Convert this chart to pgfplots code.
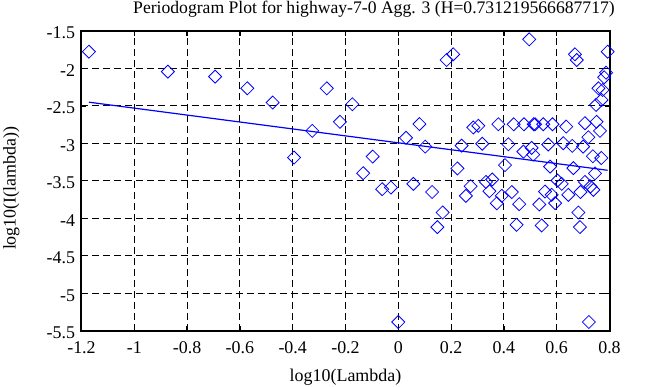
\documentclass[border=0pt]{standalone}
\usepackage{fontspec}
\setmainfont{Liberation Serif}
\usepackage{pgfplots}
\pgfplotsset{compat=1.18}
\definecolor{mblue}{RGB}{0,0,255}
\begin{document}
\begin{tikzpicture}
\useasboundingbox (-81.5bp,-56.3bp) rectangle (576.5bp,330.7bp);
\begin{axis}[
  at={(0,0)}, anchor=south west,
  scale only axis, width=528bp, height=299.7bp,
  xmin=-1.2, xmax=0.8, ymin=-5.5, ymax=-1.5,
  xtick={-1.2,-1,-0.8,-0.6,-0.4,-0.2,0,0.2,0.4,0.6,0.8},
  ytick={-5.5,-5,-4.5,-4,-3.5,-3,-2.5,-2,-1.5},
  xticklabels={-1.2,-1,-0.8,-0.6,-0.4,-0.2,0,0.2,0.4,0.6,0.8},
  yticklabels={-5.5,-5,-4.5,-4,-3.5,-3,-2.5,-2,-1.5},
  grid=major,
  major grid style={black, line width=0.9bp, dash pattern=on 7bp off 4bp},
  axis line style={black, line width=2bp},
  tick align=inside, major tick length=5bp,
  tick style={black, line width=1.2bp},
  xtick pos=both, ytick pos=both,
  tick label style={font=\fontsize{18}{20}\selectfont},
  xticklabel style={yshift=-7bp},
  yticklabel style={xshift=-3bp, yshift=-2bp},
  title={Periodogram Plot for highway-7-0 Agg. 3 (H=0.731219566687717)},
  title style={font=\fontsize{17.7}{20}\selectfont, at={(0.5,1)}, anchor=base, xshift=28.5bp, yshift=12bp, inner sep=0pt},
  xlabel={log10(Lambda)},
  xlabel style={font=\fontsize{18}{20}\selectfont, at={(0.5,0)}, anchor=base, yshift=-51bp, inner sep=0pt},
  ylabel={log10(I(lambda))},
  ylabel style={font=\fontsize{18}{20}\selectfont, at={(0,0.5)}, anchor=base, xshift=-7.4bp, yshift=65.8bp, inner sep=0pt},
  clip=false,
]
\addplot[only marks, mark=square, mark size=4.6bp, mark options={rotate=45, draw=mblue, fill=none, line width=0.8bp}]
coordinates {
(-1.172,-1.776) (-0.873,-2.042) (-0.694,-2.109) (-0.572,-2.265) (-0.476,-2.455)
(-0.395,-3.189) (-0.326,-2.833) (-0.271,-2.265) (-0.221,-2.712) (-0.174,-2.478)
(-0.133,-3.398) (-0.097,-3.176) (-0.061,-3.611) (-0.028,-3.589) (0.000,-5.384)
(0.029,-2.925) (0.057,-3.540) (0.080,-2.742) (0.102,-3.043) (0.128,-3.649)
(0.148,-4.117) (0.168,-3.922) (0.183,-1.887) (0.208,-1.811) (0.224,-3.335)
(0.240,-3.030) (0.256,-3.700) (0.274,-3.572) (0.284,-2.787) (0.303,-2.765)
(0.318,-3.005) (0.332,-3.515) (0.345,-3.638) (0.356,-3.482) (0.373,-3.800)
(0.379,-2.745) (0.392,-3.700) (0.404,-3.290) (0.417,-3.011) (0.430,-3.650)
(0.437,-2.745) (0.448,-4.087) (0.458,-3.811) (0.474,-3.110) (0.476,-2.745)
(0.496,-1.611) (0.505,-3.060) (0.511,-3.150) (0.513,-2.745)
(0.518,-2.745) (0.549,-2.745) (0.584,-2.745) (0.636,-2.776) (0.707,-2.731)
(0.751,-2.712) (0.764,-2.833) (0.720,-2.918) (0.568,-3.015) (0.625,-2.998)
(0.659,-3.033) (0.700,-3.043) (0.737,-3.172) (0.769,-3.195) (0.575,-3.310)
(0.663,-3.330) (0.745,-3.400) (0.603,-3.495) (0.619,-3.540) (0.707,-3.515)
(0.728,-3.576) (0.739,-3.620) (0.556,-3.643) (0.581,-3.687) (0.594,-3.797)
(0.534,-3.815) (0.644,-3.687) (0.690,-3.650) (0.682,-3.922) (0.543,-4.095)
(0.688,-4.117) (0.722,-5.384) (0.669,-1.811) (0.676,-1.887) (0.793,-1.776)
(0.787,-2.056) (0.780,-2.118) (0.758,-2.265) (0.774,-2.287) (0.770,-2.420)
(0.749,-2.487)
};
\addplot[mblue, line width=1.2bp] coordinates {(-1.172,-2.450) (0.793,-3.359)};
\end{axis}
\end{tikzpicture}
\end{document}
